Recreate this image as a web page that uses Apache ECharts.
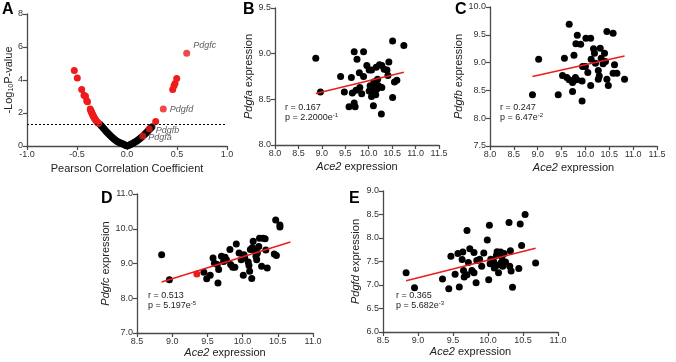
<!DOCTYPE html>
<html>
<head>
<meta charset="utf-8">
<script src="https://cdn.jsdelivr.net/npm/echarts@6/dist/echarts.min.js"></script>
<style>
html, body { margin: 0; padding: 0; background: #fff; }
#main { width: 676px; height: 362px; }
</style>
</head>
<body>
<div id="main"></div>
<script>
// panel A - volcano plot (Pearson r vs -log10 p)
var volcanoBlack = [
    [-0.27, 1.32], [-0.26, 1.25], [-0.25, 1.18], [-0.24, 1.11], [-0.23, 1.04], [-0.22, 0.97],
    [-0.21, 0.90], [-0.20, 0.84], [-0.19, 0.77], [-0.18, 0.71], [-0.17, 0.65], [-0.16, 0.59],
    [-0.15, 0.53], [-0.14, 0.48], [-0.13, 0.43], [-0.12, 0.38], [-0.11, 0.33], [-0.10, 0.29],
    [-0.09, 0.25], [-0.08, 0.22], [-0.07, 0.19], [-0.06, 0.17], [-0.05, 0.15], [-0.04, 0.12],
    [-0.03, 0.09], [-0.02, 0.06], [-0.01, 0.03], [0.0, 0.0],
    [0.01, 0.03], [0.02, 0.05], [0.03, 0.08], [0.04, 0.11], [0.05, 0.14], [0.06, 0.17],
    [0.07, 0.21], [0.08, 0.24], [0.09, 0.28], [0.10, 0.32], [0.11, 0.37], [0.12, 0.41],
    [0.13, 0.46], [0.14, 0.51], [0.15, 0.56], [0.17, 0.67], [0.18, 0.73], [0.19, 0.79],
    [0.20, 0.85], [0.21, 0.92], [0.22, 0.98], [0.23, 1.04], [0.24, 1.10], [0.25, 1.16]
];
var volcanoRed = [
    [-0.527, 4.58], [-0.497, 4.12], [-0.453, 3.42], [-0.43, 3.08], [-0.415, 3.02], [-0.403, 2.74],
    [-0.395, 2.68], [-0.368, 2.24], [-0.362, 2.15], [-0.357, 2.08], [-0.352, 2.01], [-0.347, 1.94],
    [-0.342, 1.88], [-0.337, 1.82], [-0.332, 1.76], [-0.326, 1.70], [-0.32, 1.63], [-0.312, 1.56],
    [-0.304, 1.50], [-0.295, 1.44], [-0.285, 1.38],
    [0.287, 1.48], [0.457, 3.43], [0.47, 3.65], [0.48, 3.79], [0.497, 4.09]
];
var geneNames = ['Pdgfc', 'Pdgfd', 'Pdgfb', 'Pdgfa'];
var genePoints = [[0.597, 5.62], [0.363, 2.24], [0.223, 1.04], [0.157, 0.61]];
var pThreshold = 1.3;

// panels B-E - Ace2 vs Pdgf expression
var pointsB = [
    [8.87, 8.95], [8.97, 8.58], [9.40, 8.75], [9.48, 8.58], [9.58, 8.42], [9.63, 8.74],
    [9.69, 9.02], [9.75, 8.94], [9.69, 8.46], [9.71, 8.42], [9.80, 8.79], [9.89, 9.02],
    [9.89, 8.75], [9.65, 8.57], [9.73, 8.60], [9.81, 8.63], [9.85, 8.56], [9.96, 8.87],
    [10.01, 8.82], [10.06, 8.82], [10.10, 8.43], [10.09, 8.63], [10.11, 8.69], [10.16, 8.85],
    [10.19, 8.72], [10.23, 8.88], [10.28, 8.87], [10.21, 8.65], [10.28, 8.63], [10.15, 8.55],
    [10.17, 8.61], [10.08, 8.56], [10.01, 8.59], [10.06, 8.53], [10.27, 8.34], [10.16, 8.70],
    [10.39, 8.82], [10.41, 8.76], [10.43, 8.91], [10.33, 8.83], [10.51, 9.14], [10.75, 9.09],
    [10.51, 8.52], [10.55, 8.69], [10.60, 8.71], [10.12, 8.67], [10.03, 8.65]
];
var fitB = [[8.87, 8.564], [10.75, 8.797]];

var pointsC = [
    [8.89, 8.42], [9.02, 9.06], [9.43, 8.42], [9.52, 8.77], [9.56, 9.08], [9.61, 8.73],
    [9.66, 9.69], [9.66, 8.69], [9.73, 8.64], [9.73, 8.48], [9.76, 9.13], [9.80, 9.34],
    [9.83, 9.49], [9.79, 8.73], [9.82, 8.69], [9.90, 9.33], [9.93, 8.67], [9.93, 8.31],
    [9.94, 8.93], [10.00, 8.93], [10.01, 9.44], [10.11, 9.44], [10.05, 8.82], [10.12, 9.06],
    [10.11, 8.59], [10.17, 9.25], [10.19, 9.17], [10.21, 8.99], [10.27, 8.86], [10.27, 8.70],
    [10.29, 8.76], [10.31, 9.26], [10.33, 9.08], [10.37, 8.98], [10.40, 9.17], [10.42, 9.02],
    [10.45, 9.56], [10.45, 8.70], [10.48, 8.59], [10.58, 9.53], [10.61, 8.96], [10.58, 8.81],
    [10.66, 8.81], [10.82, 8.70]
];
var fitC = [[8.89, 8.75], [10.82, 9.12]];

var pointsD = [
    [8.85, 9.25], [8.96, 8.53], [9.45, 8.75], [9.49, 8.56], [9.54, 8.66], [9.58, 9.16],
    [9.60, 9.01], [9.65, 8.44], [9.64, 8.97], [9.66, 8.83], [9.70, 9.21], [9.73, 9.06],
    [9.75, 9.18], [9.77, 9.11], [9.82, 9.40], [9.83, 8.97], [9.86, 8.89], [9.89, 8.89],
    [9.91, 9.56], [9.95, 9.30], [10.01, 8.66], [9.98, 9.11], [10.02, 9.25], [10.03, 9.16],
    [10.08, 9.04], [10.09, 8.94], [10.10, 8.78], [10.11, 9.40], [10.13, 8.57], [10.14, 9.46],
    [10.15, 9.64], [10.17, 9.37], [10.19, 9.21], [10.20, 9.11], [10.21, 9.30], [10.23, 9.49],
    [10.24, 9.73], [10.27, 8.92], [10.29, 9.73], [10.32, 9.71], [10.33, 9.39], [10.35, 8.87],
    [10.47, 10.25], [10.45, 9.27], [10.48, 9.23], [10.53, 10.11], [10.53, 10.05]
];
var redPointD = [[9.35, 8.70]];
var fitD = [[8.85, 8.47], [10.68, 9.62]];

var pointsE = [
    [8.83, 7.26], [8.95, 6.94], [9.35, 7.13], [9.44, 6.92], [9.47, 7.61], [9.53, 7.23],
    [9.57, 7.67], [9.59, 6.96], [9.64, 7.70], [9.63, 7.54], [9.65, 7.31], [9.66, 7.17],
    [9.70, 8.16], [9.70, 7.22], [9.72, 7.48], [9.74, 7.77], [9.77, 7.31], [9.80, 7.69],
    [9.80, 7.26], [9.83, 7.05], [9.84, 7.52], [9.88, 7.55], [9.91, 7.40], [9.94, 7.68],
    [9.99, 7.96], [10.01, 7.11], [10.02, 8.27], [10.03, 7.45], [10.04, 7.55], [10.08, 7.50],
    [10.09, 7.36], [10.12, 7.63], [10.13, 7.42], [10.15, 7.26], [10.18, 7.70], [10.19, 7.48],
    [10.20, 7.60], [10.21, 7.40], [10.23, 7.67], [10.25, 7.49], [10.13, 7.71],
    [10.30, 8.33], [10.46, 8.30], [10.53, 8.50], [10.48, 7.84], [10.32, 7.73], [10.31, 7.40],
    [10.33, 7.30], [10.35, 6.95], [10.44, 7.35], [10.68, 7.47]
];
var fitE = [[8.83, 7.09], [10.68, 7.78]];

var statsText = [
    ['r = 0.167', 'p = 2.2000e', '-1'],
    ['r = 0.247', 'p = 6.47e', '-2'],
    ['r = 0.513', 'p = 5.197e', '-5'],
    ['r = 0.365', 'p = 5.682e', '-3']
];

var font = '"Liberation Sans", Arial, sans-serif';
var axisColor = '#4a4a4a';
var red = '#ee1c1c';

var myChart = echarts.init(document.getElementById('main'));

function makeAxis(gridIndex, min, max, interval, name, gap, decimals, isY) {
    return {
        type: 'value',
        gridIndex: gridIndex,
        min: min,
        max: max,
        interval: interval,
        name: name,
        nameLocation: 'middle',
        nameGap: gap,
        nameRotate: isY ? 90 : 0,
        nameTextStyle: {
            fontFamily: font, fontSize: 11, color: '#222',
            rich: {
                i: { fontFamily: font, fontSize: 11, color: '#222', fontStyle: 'italic' },
                sub: { fontFamily: font, fontSize: 7, color: '#222', verticalAlign: 'bottom', lineHeight: 8 }
            }
        },
        axisLine: { show: true, onZero: false, lineStyle: { color: axisColor, width: 1.3 } },
        axisTick: { show: true, length: 4, lineStyle: { color: axisColor, width: 1.2 } },
        axisLabel: {
            fontFamily: font, fontSize: 9, color: '#333', margin: 4,
            formatter: function (v) { return v.toFixed(decimals); }
        },
        splitLine: { show: false }
    };
}

var grids = [
    { left: 27, top: 14, width: 200, height: 132 },
    { left: 275, top: 8, width: 164, height: 137 },
    { left: 490, top: 7, width: 167, height: 139 },
    { left: 137, top: 194, width: 176, height: 139 },
    { left: 383, top: 191, width: 175, height: 141 }
];

var xAxes = [
    makeAxis(0, -1, 1, 0.5, 'Pearson Correlation Coefficient', 17, 1, false),
    makeAxis(1, 8, 11.5, 0.5, '{i|Ace2} expression', 16, 1, false),
    makeAxis(2, 8, 11.5, 0.5, '{i|Ace2} expression', 16, 1, false),
    makeAxis(3, 8.5, 11, 0.5, '{i|Ace2} expression', 14, 1, false),
    makeAxis(4, 8.5, 11, 0.5, '{i|Ace2} expression', 14, 1, false)
];
var yAxes = [
    makeAxis(0, 0, 8, 2, '-Log{sub|10}P-value', 11, 0, true),
    makeAxis(1, 8, 9.5, 0.5, '{i|Pdgfa} expression', 16, 1, true),
    makeAxis(2, 7.5, 10, 0.5, '{i|Pdgfb} expression', 20, 1, true),
    makeAxis(3, 7, 11, 1, '{i|Pdgfc} expression', 21, 1, true),
    makeAxis(4, 6, 9, 0.5, '{i|Pdgfd} expression', 22, 1, true)
];

var labelOffsets = { Pdgfc: [-2, -8], Pdgfd: [-2, 0], Pdgfb: [-2, 2], Pdgfa: [-3, 2] };

var geneData = geneNames.map(function (name, i) {
    return {
        name: name,
        value: genePoints[i],
        label: {
            show: true,
            position: 'right',
            offset: labelOffsets[name],
            formatter: '{b}',
            fontFamily: font,
            fontSize: 9,
            fontStyle: 'italic',
            color: '#333'
        }
    };
});

function dots(idx, data, color) {
    return {
        type: 'scatter', xAxisIndex: idx, yAxisIndex: idx,
        data: data, symbolSize: 7,
        itemStyle: { color: color, opacity: 1 }, z: 3
    };
}
function fit(idx, data) {
    return {
        type: 'line', xAxisIndex: idx, yAxisIndex: idx,
        data: data, symbol: 'none',
        lineStyle: { color: red, width: 1.5 }, z: 5
    };
}

var series = [
    {
        type: 'scatter', xAxisIndex: 0, yAxisIndex: 0,
        data: volcanoBlack, symbolSize: 7,
        itemStyle: { color: '#000' }, z: 3,
        markLine: {
            silent: true, symbol: 'none',
            label: { show: false },
            lineStyle: { color: '#000', type: [2, 2], width: 1.2 },
            data: [{ yAxis: pThreshold }]
        }
    },
    dots(0, volcanoRed, red),
    {
        type: 'scatter', xAxisIndex: 0, yAxisIndex: 0,
        data: geneData, symbolSize: 7,
        itemStyle: { color: red }, z: 4
    },
    dots(1, pointsB, '#000'), fit(1, fitB),
    dots(2, pointsC, '#000'), fit(2, fitC),
    dots(3, pointsD, '#000'), dots(3, redPointD, red), fit(3, fitD),
    dots(4, pointsE, '#000'), fit(4, fitE)
];

// text placement (pixels)
var letterPos = [['A', 2, 2], ['B', 243, 2], ['C', 455, 2], ['D', 101, 191], ['E', 349, 191]];
var statsPos = [[285, 103], [500, 103], [148, 291], [396, 291]];

var graphics = [];
letterPos.forEach(function (l) {
    graphics.push({
        type: 'text', left: l[1], top: l[2],
        style: { text: l[0], font: 'bold 16px ' + font, fill: '#000' }
    });
});
statsText.forEach(function (s, i) {
    graphics.push({
        type: 'text', left: statsPos[i][0], top: statsPos[i][1],
        style: {
            text: '{n|' + s[0] + '}\n{n|' + s[1] + '}{sup|' + s[2] + '}',
            fill: '#222',
            rich: {
                n: { fontFamily: font, fontSize: 9, fill: '#222', lineHeight: 10, verticalAlign: 'bottom' },
                sup: { fontFamily: font, fontSize: 6, fill: '#222', lineHeight: 6, verticalAlign: 'top' }
            }
        }
    });
});

var option = {
    animation: false,
    backgroundColor: '#fff',
    grid: grids,
    xAxis: xAxes,
    yAxis: yAxes,
    series: series,
    graphic: graphics
};
myChart.setOption(option);
</script>
</body>
</html>
